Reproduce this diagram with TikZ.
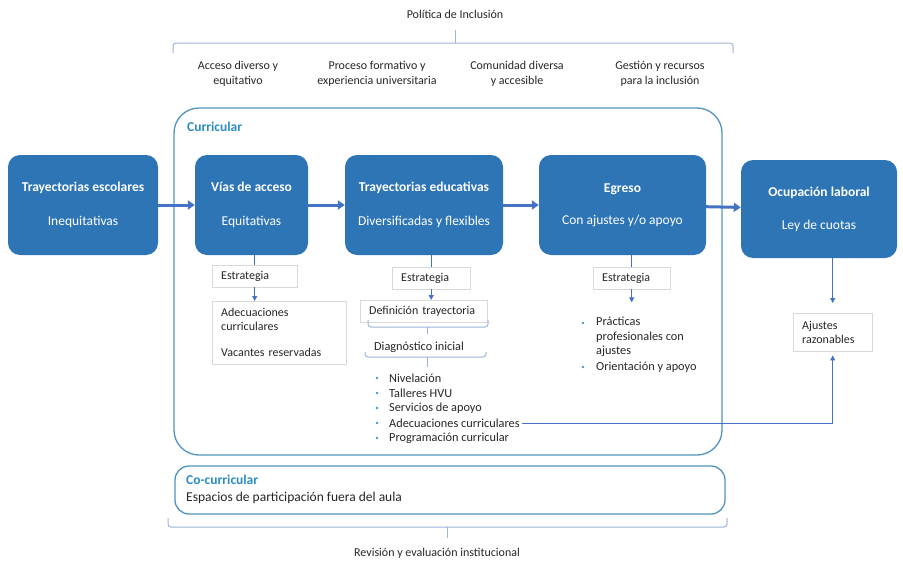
\documentclass[tikz,border=0pt]{standalone}
\usepackage{fontspec}
\setmainfont{Carlito}
\usetikzlibrary{arrows.meta}

\definecolor{boxblue}{HTML}{2E75B6}
\definecolor{frameblue}{HTML}{4F93BD}
\definecolor{labelblue}{HTML}{2B8CC4}
\definecolor{linkblue}{HTML}{4472C4}
\definecolor{bracegray}{HTML}{9DB3D9}
\definecolor{bulletblue}{HTML}{3E9BCB}
\definecolor{textgray}{HTML}{262626}

\tikzset{
  bluebox/.style={fill=boxblue, rounded corners=12pt, text=white, align=center,
    inner sep=0pt, font=\fontsize{13.5}{16}\selectfont},
  stratbox/.style={draw=black!15, fill=white, anchor=north west, align=left,
    inner xsep=9pt, inner ysep=0pt, text=textgray, font=\fontsize{12}{14}\selectfont},
  areabox/.style={draw=frameblue, line width=1.3pt, inner sep=0pt},
  flow/.style={draw=linkblue, line width=3pt, -{Triangle[length=7pt,width=9pt]}},
  link/.style={draw=linkblue, line width=1pt},
  linkarrow/.style={link, -{Triangle[length=5pt,width=5pt]}},
  brace/.style={draw=bracegray, line width=1pt, rounded corners=3pt},
  smalltext/.style={text=textgray, font=\fontsize{12}{15}\selectfont, align=center},
  listitem/.style={text=textgray, font=\fontsize{12.3}{14.5}\selectfont, anchor=west, inner sep=2pt},
  arealabel/.style={anchor=west, text=labelblue, font=\fontsize{13.5}{15}\selectfont\bfseries, inner sep=0pt}
}

\begin{document}
\begin{tikzpicture}[x=1pt, y=-1pt]
  \useasboundingbox (0,0) rectangle (903,565);

  % politica de inclusion
  \node[smalltext] (pol) at (455,14) {Política de Inclusión};
  \draw[brace] (173,53) |- (455,43) -| (733,53);
  \draw[brace] (455,43) -- (455,30);
  \node[smalltext] (ejeA) at (238,74) {Acceso diverso y\\equitativo};
  \node[smalltext] (ejeB) at (377,74) {Proceso formativo y\\experiencia universitaria};
  \node[smalltext] (ejeC) at (517,74) {Comunidad diversa\\y accesible};
  \node[smalltext] (ejeD) at (660,74) {Gestión y recursos\\para la inclusión};

  % curricular
  \node[areabox, rounded corners=25pt, minimum width=548pt, minimum height=347pt] (cur) at (448,281.5) {};
  \node[arealabel] (curlab) at (187,127) {Curricular};

  % etapas
  \node[bluebox, minimum width=150pt, minimum height=100pt] (esc) at (83,205)
    {\textbf{Trayectorias escolares}\\[18pt]Inequitativas};
  \node[bluebox, minimum width=113pt, minimum height=100pt] (via) at (251.5,205)
    {\textbf{Vías de acceso}\\[18pt]Equitativas};
  \node[bluebox, minimum width=158pt, minimum height=100pt] (edu) at (424,205)
    {\textbf{Trayectorias educativas}\\[18pt]Diversificadas y flexibles};
  \node[bluebox, minimum width=167pt, minimum height=100pt] (egr) at (622.5,205)
    {\textbf{Egreso}\\[16pt]Con ajustes y/o apoyo};
  \node[bluebox, minimum width=156pt, minimum height=98pt] (ocu) at (819,209)
    {\textbf{Ocupación laboral}\\[17pt]Ley de cuotas};
  \draw[flow] (esc) -- (via);
  \draw[flow] (via) -- (edu);
  \draw[flow] (edu) -- (egr);
  \draw[flow] (egr) -- (ocu);

  % vias de acceso
  \node[stratbox, text width=67pt, minimum height=22pt] (est1) at (212,265) {Estrategia};
  \node[stratbox, text width=116pt, minimum height=63pt] (adc) at (212,301)
    {Adecuaciones\\curriculares\\[12pt]Vacantes reservadas};
  \draw[link] (est1.north) -- (est1.north |- via.south);
  \draw[linkarrow] (est1.south) -- (est1.south |- adc.north);

  % trayectorias educativas
  \node[stratbox, text width=60pt, minimum height=22pt] (est2) at (392,267) {Estrategia};
  \node[stratbox, text width=109pt, minimum height=22pt] (def) at (360,300) {Definición trayectoria};
  \draw[link] (est2.north) -- (est2.north |- edu.south);
  \draw[linkarrow] (est2.south) -- (est2.south |- def.north);
  \draw[brace] (368,320) |- (427,327) -| (488,320);
  \draw[brace] (427,327) -- (427,334);
  \node[listitem, anchor=center] (dia) at (419,347) {Diagnóstico inicial};
  \draw[brace] (365,352) |- (427,357) -| (486,352);
  \draw[brace] (427,357) -- (427,367);
  \foreach \t [count=\i] in {Nivelación, Talleres HVU, Servicios de apoyo,
      Adecuaciones curriculares, Programación curricular} {
    \node[listitem] (it\i) at (387,{363+15*\i}) {\t};
    \fill[bulletblue] (377,{363+15*\i}) circle (1.3pt);
  }

  % egreso
  \node[stratbox, text width=59pt, minimum height=22pt] (est3) at (593,267) {Estrategia};
  \draw[link] (est3.north) -- (est3.north |- egr.south);
  \draw[linkarrow] (est3.south) -- ++(0,13);
  \node[listitem, anchor=north west, align=left] (eg1) at (594,315)
    {Prácticas\\profesionales con\\ajustes};
  \node[listitem] (eg2) at (594,367) {Orientación y apoyo};
  \fill[bulletblue] (583,323) circle (1.3pt);
  \fill[bulletblue] (583,367) circle (1.3pt);

  % ocupacion laboral
  \node[stratbox, text width=61pt, minimum height=38pt] (ajs) at (793,313) {Ajustes\\razonables};
  \draw[linkarrow, shorten >=10pt] (ocu.south -| ajs.north) -- (ajs.north);
  \draw[linkarrow, shorten >=4pt] (it4.east) -| (ajs.south);

  % co-curricular
  \node[areabox, rounded corners=14pt, minimum width=550pt, minimum height=48pt] (cocur) at (450,490) {};
  \node[arealabel] (coclab) at (186,480) {Co-curricular};
  \node[listitem, font=\fontsize{13.5}{15}\selectfont, inner sep=0pt] (esp) at (186,498)
    {Espacios de participación fuera del aula};

  % revision
  \draw[brace] (168,518) |- (447,527) -| (727,518);
  \draw[brace] (447,527) -- (447,538);
  \node[smalltext] (rev) at (437,553) {Revisión y evaluación institucional};
\end{tikzpicture}
\end{document}
